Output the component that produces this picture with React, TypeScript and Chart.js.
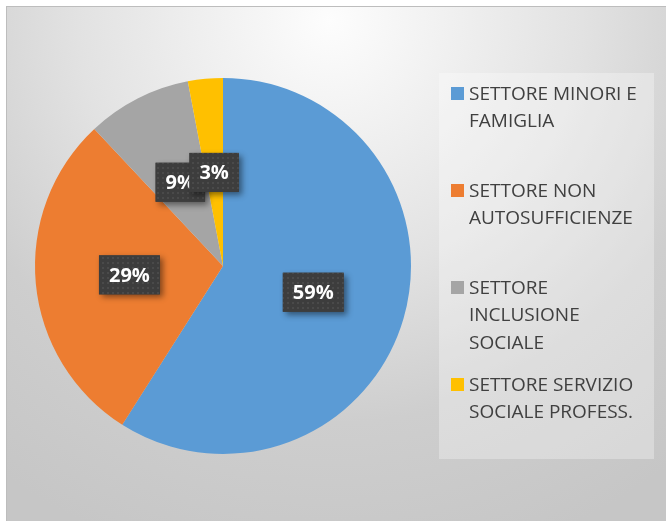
import React, { useEffect, useRef } from "react";
import { Chart, registerables } from "chart.js";

Chart.register(...registerables);

const categories = [
  "SETTORE MINORI E FAMIGLIA",
  "SETTORE NON AUTOSUFFICIENZE",
  "SETTORE INCLUSIONE SOCIALE",
  "SETTORE SERVIZIO SOCIALE PROFESS.",
];
const shares = [59, 29, 9, 3];
const shareLabels = ["59%", "29%", "9%", "3%"];
const sliceColors = ["#5b9bd5", "#ed7d31", "#a5a5a5", "#ffc000"];

const W = 666;
const H = 521;

function wrap(ctx: CanvasRenderingContext2D, text: string, maxW: number): string[] {
  const words = text.split(" ");
  const lines: string[] = [];
  let cur = "";
  for (const w of words) {
    const t = cur ? cur + " " + w : w;
    if (ctx.measureText(t).width > maxW && cur) {
      lines.push(cur);
      cur = w;
    } else cur = t;
  }
  if (cur) lines.push(cur);
  return lines;
}

const backgroundPlugin = {
  id: "bgFrame",
  beforeDraw(chart: any) {
    const ctx = chart.ctx as CanvasRenderingContext2D;
    ctx.save();
    ctx.fillStyle = "#ffffff";
    ctx.fillRect(0, 0, W, H);
    const g = ctx.createRadialGradient(330, 20, 0, 330, 20, 560);
    g.addColorStop(0, "#fdfdfd");
    g.addColorStop(0.45, "#e2e2e2");
    g.addColorStop(0.72, "#cecece");
    g.addColorStop(1, "#c6c6c6");
    ctx.fillStyle = g;
    ctx.fillRect(7, 7, W - 7, H - 7);
    ctx.strokeStyle = "#bdbdbd";
    ctx.lineWidth = 1;
    ctx.strokeRect(6.5, 6.5, W, H);
    ctx.fillStyle = "rgba(255,255,255,0.3)";
    ctx.fillRect(439, 73, 215, 386);
    ctx.restore();
  },
};

let patternCache: CanvasPattern | null = null;
function getPattern(ctx: CanvasRenderingContext2D) {
  if (patternCache) return patternCache;
  const pc = document.createElement("canvas");
  pc.width = 5;
  pc.height = 5;
  const p = pc.getContext("2d")!;
  p.fillStyle = "#3d3d3d";
  p.fillRect(0, 0, 5, 5);
  p.fillStyle = "#4a4a4a";
  p.fillRect(2, 2, 2, 2);
  patternCache = ctx.createPattern(pc, "repeat");
  return patternCache;
}

const labelsPlugin = {
  id: "boxLabels",
  afterDatasetsDraw(chart: any) {
    const ctx = chart.ctx as CanvasRenderingContext2D;
    const meta = chart.getDatasetMeta(0);
    ctx.save();
    ctx.font = "bold 20px 'Open Sans'";
    meta.data.forEach((arc: any, i: number) => {
      const pos = arc.tooltipPosition();
      const text = shareLabels[i];
      const tw = ctx.measureText(text).width;
      const bw = tw + 20;
      const bh = 39;
      const x = pos.x - bw / 2;
      const y = pos.y - bh / 2;
      ctx.save();
      ctx.shadowColor = "rgba(0,0,0,0.45)";
      ctx.shadowBlur = 6;
      ctx.shadowOffsetX = 3;
      ctx.shadowOffsetY = 3;
      ctx.fillStyle = "#3d3d3d";
      ctx.fillRect(x, y, bw, bh);
      ctx.restore();
      ctx.fillStyle = getPattern(ctx) as any;
      ctx.fillRect(x, y, bw, bh);
      ctx.fillStyle = "#ffffff";
      ctx.textAlign = "center";
      ctx.textBaseline = "middle";
      ctx.fillText(text, pos.x, pos.y + 1);
    });
    ctx.restore();
  },
};

const legendPlugin = {
  id: "sideLegend",
  afterDraw(chart: any) {
    const ctx = chart.ctx as CanvasRenderingContext2D;
    ctx.save();
    ctx.font = "19px 'Open Sans'";
    ctx.textBaseline = "middle";
    ctx.textAlign = "left";
    const firstY = 93.5;
    const pitch = 97;
    const lineH = 27.5;
    categories.forEach((cat, i) => {
      const y0 = firstY + i * pitch;
      ctx.fillStyle = sliceColors[i];
      ctx.fillRect(451, y0 - 6.5, 13, 13);
      ctx.fillStyle = "#404040";
      const lines = wrap(ctx, cat, 182);
      lines.forEach((ln, j) => ctx.fillText(ln, 469, y0 + j * lineH + 1));
    });
    ctx.restore();
  },
};

export default function App() {
  const ref = useRef<HTMLCanvasElement | null>(null);
  useEffect(() => {
    document.body.style.margin = "0";
    const canvas = ref.current!;
    const chart = new Chart(canvas, {
      type: "pie",
      data: {
        labels: categories,
        datasets: [
          {
            data: shares,
            backgroundColor: sliceColors,
            borderWidth: 0,
          },
        ],
      },
      options: {
        animation: false,
        responsive: false,
        devicePixelRatio: 1,
        layout: { padding: { left: 35, right: 255, top: 78, bottom: 67 } },
        plugins: {
          legend: { display: false },
          tooltip: { enabled: false },
        },
      },
      plugins: [backgroundPlugin, labelsPlugin, legendPlugin],
    });
    return () => chart.destroy();
  }, []);
  return (
    <div style={{ width: W, height: H }}>
      <canvas ref={ref} width={W} height={H} style={{ display: "block" }} />
    </div>
  );
}
